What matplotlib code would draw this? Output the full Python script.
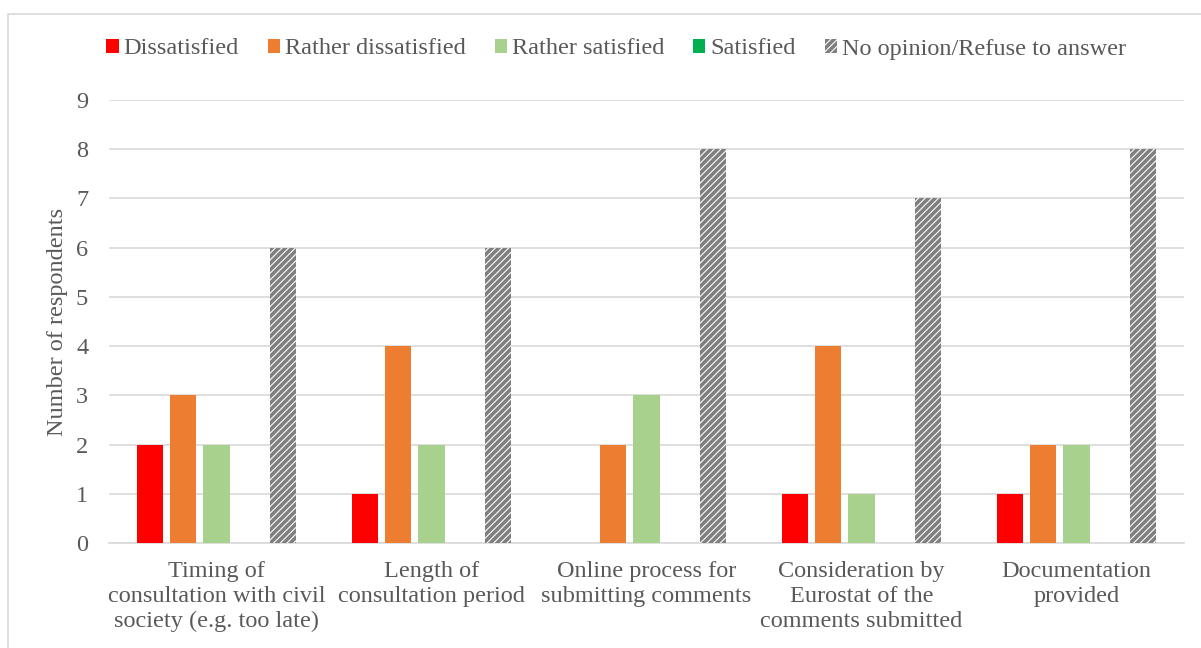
import matplotlib
matplotlib.use('Agg')
import matplotlib.pyplot as plt
import numpy as np
from matplotlib.patches import Rectangle

# Survey answers per consultation aspect
categories = [
    'Timing of\nconsultation with civil\nsociety (e.g. too late)',
    'Length of\nconsultation period',
    'Online process for\nsubmitting comments',
    'Consideration by\nEurostat of the\ncomments submitted',
    'Documentation\nprovided',
]
series_names = ['Dissatisfied', 'Rather dissatisfied', 'Rather satisfied',
                'Satisfied', 'No opinion/Refuse to answer']
dissatisfied = [2, 1, 0, 1, 1]
rather_dissatisfied = [3, 4, 2, 4, 2]
rather_satisfied = [2, 2, 3, 1, 2]
satisfied = [0, 0, 0, 0, 0]
no_opinion = [6, 6, 8, 7, 8]

values = [dissatisfied, rather_dissatisfied, rather_satisfied, satisfied, no_opinion]
colors = ['#ff0000', '#ed7d31', '#a9d18e', '#00b050', 'white']

plt.rcParams['font.family'] = ['Liberation Serif', 'DejaVu Serif']
plt.rcParams['hatch.linewidth'] = 2.6
text_color = '#595959'
fs = 17.5

fig = plt.figure(figsize=(12.01, 6.48), dpi=100)
ax = fig.add_axes([109 / 1201, 1 - 543 / 648, 1075 / 1201, 443 / 648])

x = np.arange(len(categories))
step = 0.154
width = 0.121
for i, (name, vals, col) in enumerate(zip(series_names, values, colors)):
    offs = (i - 2) * step
    if name.startswith('No opinion'):
        ax.bar(x + offs, vals, width, color='white', edgecolor='#7f7f7f',
               hatch='/////', linewidth=0, label=name, zorder=3)
    else:
        ax.bar(x + offs, vals, width, color=col, label=name, zorder=3)

ax.set_xlim(-0.5, len(categories) - 0.5)
ax.set_ylim(0, 9)
ax.set_yticks(range(10))
ax.yaxis.grid(True, color='#d9d9d9', linewidth=1.2, zorder=0)
ax.set_axisbelow(True)
for s in ['top', 'right', 'left']:
    ax.spines[s].set_visible(False)
ax.spines['bottom'].set_color('#d9d9d9')
ax.spines['bottom'].set_linewidth(1.2)
ax.tick_params(length=0, labelsize=fs, labelcolor=text_color)
ax.tick_params(axis='y', pad=15)
ax.tick_params(axis='x', pad=13)
ax.set_xticks(x)
ax.set_xticklabels(categories, linespacing=1.25)
ax.set_ylabel('Number of respondents', fontsize=fs, color=text_color, labelpad=6)

leg = fig.legend(loc='center', bbox_to_anchor=(0.513, 1 - 49 / 648), ncol=5,
                 frameon=False, fontsize=fs, handlelength=0.5, handleheight=0.5,
                 handletextpad=0.2, columnspacing=1.2)
for t in leg.get_texts():
    t.set_color(text_color)

# chart area border
fig.patches.append(Rectangle((8 / 1201, -0.01), 1.0, 1 - 14 / 648 + 0.01,
                             transform=fig.transFigure, fill=False,
                             edgecolor='#d9d9d9', linewidth=1.2))

fig.savefig('out.png', dpi=100)
